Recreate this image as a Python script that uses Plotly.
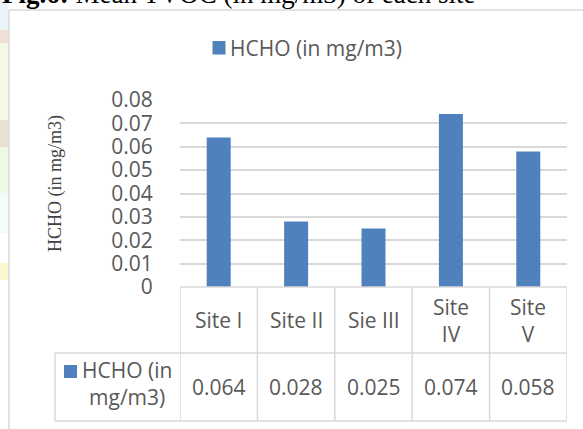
import plotly.graph_objects as go

categories = ["Site I", "Site II", "Sie III", "Site IV", "Site V"]
category_labels = ["Site I", "Site II", "Sie III", "Site<br>IV", "Site<br>V"]
hcho_values = [0.064, 0.028, 0.025, 0.074, 0.058]
value_labels = ["0.064", "0.028", "0.025", "0.074", "0.058"]
series_name = "HCHO (in mg/m3)"
y_ticks = [0, 0.01, 0.02, 0.03, 0.04, 0.05, 0.06, 0.07, 0.08]

W, H = 583, 429
L, R, T, B = 180, 16, 100, 142
PW, PH = W - L - R, H - T - B

def px(x):
    return (x - L) / PW

def py(y):
    return (H - B - y) / PH

BAR = "#4f81bd"
TXT = "#595959"
GRID = "#d9d9d9"
FONT = "Open Sans"
FS = 21

fig = go.Figure()
fig.add_trace(go.Bar(x=list(range(len(categories))), y=hcho_values, width=0.31,
                     marker=dict(color=BAR, line=dict(width=0)), name=series_name,
                     hovertext=categories, showlegend=False))

shapes = []
annotations = []

# left watermark strip
strip = [(0, 30, "#eaf5f9"), (30, 43, "#eee0d7"), (43, 120, "#f3f9e2"), (120, 147, "#eadfd3"),
         (147, 193, "#f0f9e6"), (193, 233, "#f5fbfd"), (263, 280, "#fcf5d2")]
for y0, y1, c in strip:
    shapes.append(dict(type="rect", xref="paper", yref="paper", x0=px(0), x1=px(8.5),
                       y0=py(y1), y1=py(y0), fillcolor=c, line=dict(width=0), layer="below"))

# chart frame
shapes.append(dict(type="line", xref="paper", yref="paper", x0=px(9), x1=px(9), y0=py(10), y1=py(H),
                   line=dict(color=GRID, width=1.5)))
shapes.append(dict(type="line", xref="paper", yref="paper", x0=px(9), x1=px(W), y0=py(10), y1=py(10),
                   line=dict(color=GRID, width=1.5)))

# heading (cut off at top, as in the reference)
annotations.append(dict(xref="paper", yref="paper", x=px(0), y=py(11), xanchor="left", yanchor="bottom",
                        text="<b>Fig.6:</b> Mean TVOC (in mg/m3) of each site", showarrow=False,
                        font=dict(family="Liberation Serif", size=27, color="#000000")))

# top legend
shapes.append(dict(type="rect", xref="paper", yref="paper", x0=px(212.5), x1=px(225.5), y0=py(54.5), y1=py(41),
                   fillcolor=BAR, line=dict(width=0)))
annotations.append(dict(xref="paper", yref="paper", x=px(228), y=py(47.5), xanchor="left", yanchor="middle",
                        text=series_name, showarrow=False, font=dict(family=FONT, size=FS, color=TXT)))

# y-axis title
annotations.append(dict(xref="paper", yref="paper", x=px(55), y=py(184), xanchor="center", yanchor="middle",
                        text=series_name, textangle=-90, showarrow=False,
                        font=dict(family="Liberation Serif", size=18, color="#404040")))

# data table
n = len(categories)
row1_top, row_mid, row2_bot = 287, 353, 421
lw = dict(color=GRID, width=1.5)
shapes.append(dict(type="line", xref="x", yref="paper", x0=-0.5, x1=n - 0.5, y0=py(row1_top), y1=py(row1_top), line=lw))
for yy in (row_mid, row2_bot):
    shapes.append(dict(type="line", xref="paper", yref="paper", x0=px(55), x1=1, y0=py(yy), y1=py(yy), line=lw))
for i in range(n + 1):
    shapes.append(dict(type="line", xref="x", yref="paper", x0=i - 0.5, x1=i - 0.5,
                       y0=py(row2_bot), y1=py(row1_top), line=lw))
shapes.append(dict(type="line", xref="paper", yref="paper", x0=px(55), x1=px(55),
                   y0=py(row2_bot), y1=py(row_mid), line=lw))

for i in range(n):
    annotations.append(dict(xref="x", yref="paper", x=i, y=py((row1_top + row_mid) / 2),
                            text=category_labels[i], showarrow=False, xanchor="center", yanchor="middle",
                            font=dict(family=FONT, size=FS, color=TXT)))
    annotations.append(dict(xref="x", yref="paper", x=i, y=py((row_mid + row2_bot) / 2),
                            text=value_labels[i], showarrow=False, xanchor="center", yanchor="middle",
                            font=dict(family=FONT, size=FS, color=TXT)))

# legend key in table
shapes.append(dict(type="rect", xref="paper", yref="paper", x0=px(64), x1=px(77), y0=py(378), y1=py(365),
                   fillcolor=BAR, line=dict(width=0)))
annotations.append(dict(xref="paper", yref="paper", x=px(127), y=py(383), xanchor="center", yanchor="middle",
                        text="HCHO (in<br>mg/m3)", showarrow=False, align="center",
                        font=dict(family=FONT, size=FS, color=TXT)))

fig.update_layout(
    width=W, height=H, margin=dict(l=L, r=R, t=T, b=B, autoexpand=False),
    paper_bgcolor="white", plot_bgcolor="white",
    showlegend=False, bargap=0.69,
    shapes=shapes, annotations=annotations,
    xaxis=dict(range=[-0.5, n - 0.5], showticklabels=False, showgrid=False, zeroline=False,
               showline=False, ticks="", fixedrange=True),
    yaxis=dict(range=[0, 0.08], tickvals=y_ticks, showgrid=True, gridcolor=GRID, gridwidth=1.5,
               zeroline=False, showline=False, ticks="outside", ticklen=22, tickcolor="rgba(0,0,0,0)",
               tickfont=dict(family=FONT, size=FS, color=TXT), fixedrange=True),
)

fig.write_html("out.html")
